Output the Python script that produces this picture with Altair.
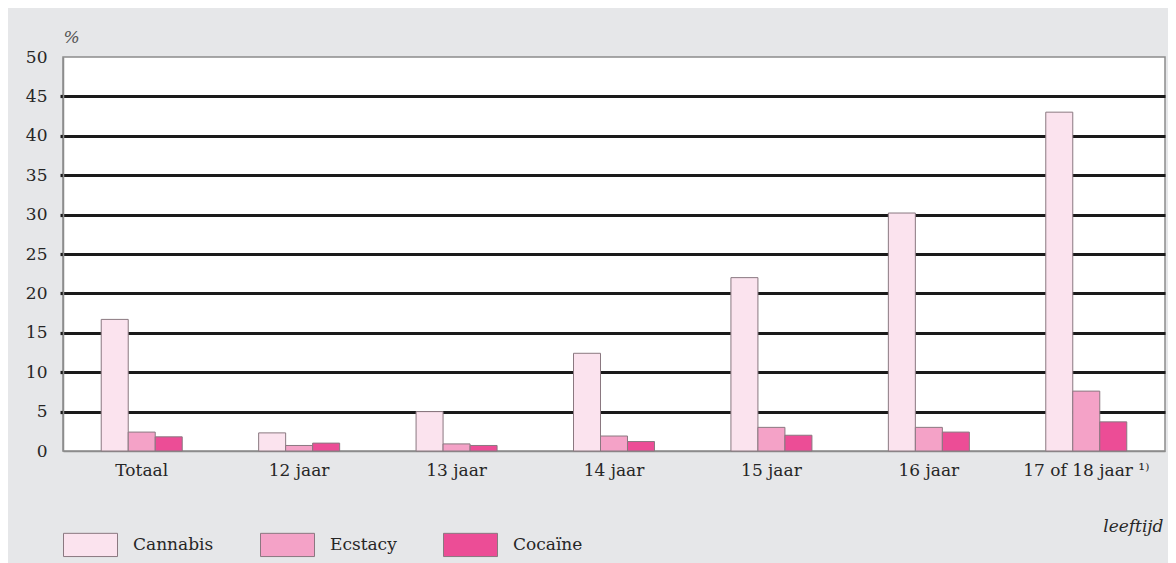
import altair as alt
import pandas as pd

categories = ["Totaal", "12 jaar", "13 jaar", "14 jaar", "15 jaar", "16 jaar", "17 of 18 jaar ¹⁾"]
series = ["Cannabis", "Ecstacy", "Cocaïne"]
cannabis = [16.7, 2.3, 5.0, 12.4, 22.0, 30.2, 43.0]
ecstacy = [2.4, 0.7, 0.9, 1.9, 3.0, 3.0, 7.6]
cocaine = [1.8, 1.0, 0.7, 1.2, 2.0, 2.4, 3.7]
colors = ["#fbe3ee", "#f4a2c7", "#ec4d96"]
y_ticks = [0, 5, 10, 15, 20, 25, 30, 35, 40, 45, 50]

rows = []
for name, vals in zip(series, [cannabis, ecstacy, cocaine]):
    for c, v in zip(categories, vals):
        rows.append({"leeftijd": c, "middel": name, "pct": v})
df = pd.DataFrame(rows)

FONT = "DejaVu Serif"
TXT = "#262626"
edge_test = "datum.value == 0 || datum.value == 50"

chart = alt.Chart(df).mark_bar(stroke="#8a7880", strokeWidth=1).encode(
    x=alt.X("leeftijd:N", sort=categories,
            scale=alt.Scale(paddingInner=0.4855, paddingOuter=0.2428),
            axis=alt.Axis(title="leeftijd", labelAngle=0, ticks=False,
                          domainColor="#8c8c8c", domainWidth=1.5,
                          labelFont=FONT, labelFontSize=17, labelColor=TXT,
                          labelPadding=11,
                          titleFont=FONT, titleFontSize=17, titleFontStyle="italic",
                          titleFontWeight="normal", titleColor=TXT,
                          titleAlign="right", titleAnchor="end",
                          titleX=1100, titleY=80, titleBaseline="alphabetic")),
    xOffset=alt.XOffset("middel:N", sort=series),
    y=alt.Y("pct:Q", scale=alt.Scale(domain=[0, 50], nice=False),
            axis=alt.Axis(values=y_ticks, title="%", titleAngle=0,
                          titleX=8, titleY=-20, titleAlign="center",
                          titleBaseline="middle",
                          titleFont=FONT, titleFontSize=17, titleFontStyle="italic",
                          titleFontWeight="normal", titleColor="#555555",
                          labelFont=FONT, labelFontSize=17, labelColor=TXT,
                          labelPadding=13,
                          domainColor="#8c8c8c", domainWidth=1.5,
                          grid=True, gridColor="#1a1a1a", gridWidth=3.2,
                          gridOpacity={"condition": {"test": edge_test, "value": 0}, "value": 1},
                          tickColor="#1a1a1a", tickWidth=3.2, tickSize=3,
                          tickOpacity={"condition": {"test": edge_test, "value": 0}, "value": 1})),
    color=alt.Color("middel:N", sort=series,
                    scale=alt.Scale(domain=series, range=colors),
                    legend=alt.Legend(title=None, orient="none", direction="horizontal",
                                      columns=3, legendX=0, legendY=460, padding=0,
                                      symbolType="M-1,-0.43H1V0.43H-1Z", symbolSize=2916,
                                      symbolStrokeColor="#8a7880", symbolStrokeWidth=1,
                                      symbolOpacity=1,
                                      labelFont=FONT, labelFontSize=17, labelColor=TXT,
                                      labelOffset=15, columnPadding=44)),
).properties(
    width=1102, height=394,
    background="#e6e7e9",
    padding={"left": 55, "top": 49, "right": 3, "bottom": 112},
    autosize=alt.AutoSizeParams(type="none"),
).configure_view(
    fill="white", stroke="#8c8c8c", strokeWidth=1.5
)

chart.save("out.html", embed_options={"renderer": "svg", "actions": False})
